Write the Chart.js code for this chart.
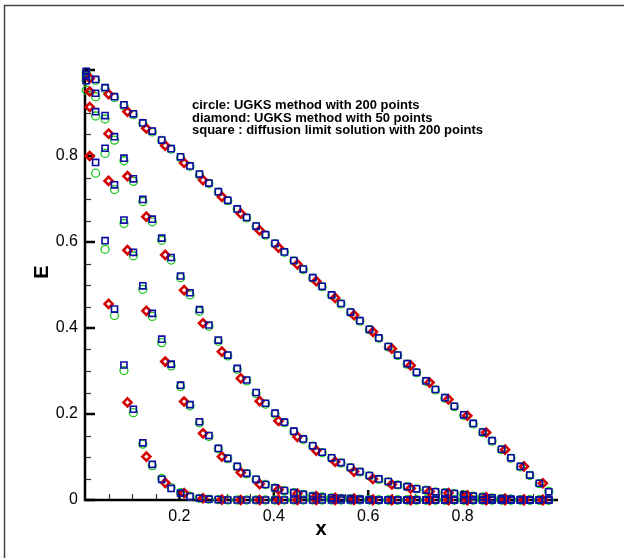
<!DOCTYPE html>
<html>
<head>
<meta charset="utf-8">
<script src="https://cdn.jsdelivr.net/npm/chart.js@4.4.0/dist/chart.umd.min.js"></script>
<style>
  html, body { margin: 0; padding: 0; background: #fff; }
  #wrap { position: relative; width: 624px; height: 558px; }
</style>
</head>
<body>
<div id="wrap"><canvas id="profile-chart"></canvas></div>
<script>
// sample positions: every 4th cell of the 200-cell mesh, every 2nd cell of the 50-cell mesh
const x200 = [0.0025,0.0225,0.0425,0.0625,0.0825,0.1025,0.1225,0.1425,0.1625,0.1825,
              0.2025,0.2225,0.2425,0.2625,0.2825,0.3025,0.3225,0.3425,0.3625,0.3825,
              0.4025,0.4225,0.4425,0.4625,0.4825,0.5025,0.5225,0.5425,0.5625,0.5825,
              0.6025,0.6225,0.6425,0.6625,0.6825,0.7025,0.7225,0.7425,0.7625,0.7825,
              0.8025,0.8225,0.8425,0.8625,0.8825,0.9025,0.9225,0.9425,0.9625,0.9825];
const x50 = [0.01,0.05,0.09,0.13,0.17,0.21,0.25,0.29,0.33,0.37,0.41,0.45,0.49,
             0.53,0.57,0.61,0.65,0.69,0.73,0.77,0.81,0.85,0.89,0.93,0.97];

// diffusion limit solution (squares), four output times
const sqA = [0.975,0.785,0.603,0.444,0.314,0.211,0.133,0.083,0.048,0.027,
             0.016,0.008,0.004,0.002,0.001,0,0,0,0,0,
             0,0,0,0,0,0,0,0,0,0, 0,0,0,0,0,0,0,0,0,0, 0,0,0,0,0,0,0,0,0,0];
const sqB = [0.985,0.903,0.818,0.733,0.651,0.576,0.498,0.434,0.374,0.316,
             0.267,0.222,0.182,0.150,0.120,0.097,0.078,0.062,0.048,0.036,
             0.028,0.022,0.017,0.013,0.009,0.007,0.005,0.004,0.003,0.002,
             0.001,0,0,0,0,0,0,0,0,0, 0,0,0,0,0,0,0,0,0,0];
const sqC = [0.990,0.946,0.894,0.845,0.795,0.747,0.699,0.653,0.609,0.564,
             0.521,0.482,0.443,0.407,0.372,0.337,0.306,0.279,0.250,0.225,
             0.202,0.181,0.160,0.142,0.126,0.111,0.098,0.087,0.076,0.066,
             0.057,0.049,0.043,0.035,0.031,0.026,0.023,0.019,0.017,0.015,
             0.012,0.009,0.007,0.005,0.003,0.002,0.001,0,0,0];
const sqD = [0.997,0.978,0.959,0.938,0.919,0.898,0.877,0.858,0.837,0.817,
             0.798,0.777,0.758,0.737,0.717,0.697,0.677,0.657,0.637,0.617,
             0.597,0.577,0.557,0.537,0.517,0.497,0.477,0.457,0.437,0.417,
             0.397,0.377,0.357,0.337,0.317,0.297,0.277,0.257,0.238,0.218,
             0.198,0.178,0.158,0.138,0.118,0.098,0.078,0.058,0.039,0.019];

// UGKS, 200 cells (circles)
const ciA = [0.953,0.760,0.583,0.429,0.301,0.203,0.130,0.080,0.050,0.029,
             0.017,0.009,0.004,0.002,0.001,0,0,0,0,0,
             0,0,0,0,0,0,0,0,0,0, 0,0,0,0,0,0,0,0,0,0, 0,0,0,0,0,0,0,0,0,0];
const ciB = [0.976,0.893,0.806,0.722,0.643,0.568,0.490,0.427,0.366,0.312,
             0.264,0.219,0.180,0.148,0.119,0.096,0.077,0.061,0.047,0.036,
             0.028,0.022,0.017,0.013,0.009,0.007,0.005,0.004,0.003,0.002,
             0.001,0,0,0,0,0,0,0,0,0, 0,0,0,0,0,0,0,0,0,0];
const ciC = [0.986,0.938,0.886,0.837,0.789,0.741,0.694,0.647,0.604,0.558,
             0.517,0.477,0.439,0.404,0.369,0.335,0.304,0.277,0.248,0.223,
             0.200,0.180,0.159,0.141,0.125,0.110,0.097,0.086,0.075,0.065,
             0.056,0.048,0.042,0.035,0.031,0.026,0.023,0.019,0.017,0.015,
             0.012,0.009,0.007,0.005,0.003,0.002,0.001,0,0,0];
const ciD = [0.995,0.976,0.957,0.936,0.917,0.896,0.876,0.856,0.836,0.816,
             0.796,0.776,0.756,0.736,0.716,0.696,0.676,0.656,0.636,0.616,
             0.596,0.576,0.556,0.536,0.516,0.496,0.476,0.456,0.436,0.416,
             0.396,0.376,0.356,0.336,0.316,0.296,0.276,0.256,0.237,0.217,
             0.197,0.177,0.157,0.137,0.117,0.097,0.077,0.057,0.038,0.020];

// UGKS, 50 cells (diamonds)
const dmA = [0.800,0.456,0.227,0.101,0.040,0.016,0.004,0.001,0,0,0,0,0,
             0,0,0,0,0,0,0,0,0,0,0,0];
const dmB = [0.914,0.742,0.581,0.440,0.322,0.229,0.155,0.101,0.064,0.037,0.024,0.015,0.009,
             0.005,0.003,0.001,0,0,0,0,0,0,0,0,0];
const dmC = [0.950,0.852,0.753,0.659,0.570,0.488,0.411,0.345,0.283,0.230,0.184,0.147,0.115,
             0.089,0.066,0.049,0.036,0.027,0.020,0.016,0.011,0.006,0.003,0.001,0];
const dmD = [0.981,0.944,0.903,0.864,0.824,0.784,0.744,0.705,0.666,0.627,0.587,0.548,0.509,
             0.470,0.430,0.391,0.352,0.313,0.273,0.234,0.196,0.157,0.117,0.078,0.039];

const xTicks = [0.2, 0.4, 0.6, 0.8];
const yTicks = [0, 0.2, 0.4, 0.6, 0.8];

const legendLines = [
  'circle: UGKS method with 200 points',
  'diamond: UGKS method with 50 points',
  'square : diffusion limit solution with 200 points'
];

function pts(xs, ys) {
  return xs.map((x, i) => ({ x: x, y: ys[i] }));
}

const squares = [sqA, sqB, sqC, sqD].flatMap(s => pts(x200, s));
const circles = [ciA, ciB, ciC, ciD].flatMap(s => pts(x200, s));
const diamonds = [dmA, dmB, dmC, dmD].flatMap(s => pts(x50, s));

// inward ticks, axis lines, axis titles, annotation text, frame
const decor = {
  id: 'decor',
  beforeDatasetsDraw(chart) {
    const { ctx, scales: { x, y } } = chart;
    const x0 = x.getPixelForValue(0), x1 = x.getPixelForValue(1);
    const y0 = y.getPixelForValue(0), y1 = y.getPixelForValue(1);
    ctx.save();
    // minor ticks every 0.05
    ctx.lineWidth = 1.2;
    ctx.strokeStyle = '#333';
    for (let k = 1; k < 20; k++) {
      if (k % 4 === 0) continue;
      const v = k * 0.05;
      const px = Math.round(x.getPixelForValue(v)) + 0.5;
      ctx.beginPath(); ctx.moveTo(px, y0); ctx.lineTo(px, y0 - 6); ctx.stroke();
      const py = Math.round(y.getPixelForValue(v)) + 0.5;
      ctx.beginPath(); ctx.moveTo(x0, py); ctx.lineTo(x0 + 6, py); ctx.stroke();
    }
    // major ticks
    ctx.strokeStyle = '#000';
    ctx.lineWidth = 2.5;
    xTicks.forEach(v => {
      const px = x.getPixelForValue(v);
      ctx.beginPath(); ctx.moveTo(px, y0); ctx.lineTo(px, y0 - 10); ctx.stroke();
    });
    yTicks.concat([1]).forEach(v => {
      const py = y.getPixelForValue(v);
      ctx.beginPath(); ctx.moveTo(x0, py); ctx.lineTo(x0 + 10, py); ctx.stroke();
    });
    // axis lines
    ctx.lineWidth = 2.5;
    ctx.beginPath();
    ctx.moveTo(x0, y1 - 1);
    ctx.lineTo(x0, y0);
    ctx.lineTo(x1 + 1, y0);
    ctx.stroke();
    ctx.restore();
  },
  afterDraw(chart) {
    const { ctx, scales: { x } } = chart;
    ctx.save();
    ctx.fillStyle = '#000';
    // axis titles
    ctx.font = 'bold 20px "Liberation Sans", Arial, sans-serif';
    ctx.textAlign = 'center';
    ctx.textBaseline = 'alphabetic';
    ctx.fillText('x', (x.left + x.right) / 2, 535);
    ctx.save();
    ctx.translate(48, 272);
    ctx.rotate(-Math.PI / 2);
    ctx.fillText('E', 0, 0);
    ctx.restore();
    // method key
    ctx.font = 'bold 13px "Liberation Sans", Arial, sans-serif';
    ctx.textAlign = 'left';
    legendLines.forEach((t, i) => ctx.fillText(t, 192, 109 + i * 12.5));
    // outer frame (top and left edges fall inside the page)
    ctx.strokeStyle = '#444';
    ctx.lineWidth = 1.5;
    ctx.beginPath();
    ctx.moveTo(4.5, 558);
    ctx.lineTo(4.5, 5.5);
    ctx.lineTo(624, 5.5);
    ctx.stroke();
    ctx.restore();
  }
};

new Chart(document.getElementById('profile-chart'), {
  type: 'scatter',
  data: {
    datasets: [
      {
        label: 'diffusion limit, 200 points',
        data: squares,
        order: 0,
        pointStyle: 'rect',
        pointRadius: 4.3,
        borderWidth: 1.6,
        borderColor: '#0c0ca0',
        backgroundColor: 'rgba(255,255,255,0)',
        clip: false
      },
      {
        label: 'UGKS, 50 points',
        data: diamonds,
        order: 1,
        pointStyle: 'rectRot',
        pointRadius: 4,
        borderWidth: 2.6,
        borderColor: '#d40000',
        backgroundColor: 'rgba(255,255,255,0)',
        clip: false
      },
      {
        label: 'UGKS, 200 points',
        data: circles,
        order: 2,
        pointStyle: 'circle',
        pointRadius: 4,
        borderWidth: 1.3,
        borderColor: '#1ec81e',
        backgroundColor: 'rgba(255,255,255,0)',
        clip: false
      }
    ]
  },
  options: {
    responsive: true,
    maintainAspectRatio: false,
    animation: false,
    layout: { padding: { left: 0, right: 67, top: 70, bottom: 8 } },
    plugins: { legend: { display: false }, tooltip: { enabled: false } },
    scales: {
      x: {
        type: 'linear',
        min: 0, max: 1,
        border: { display: false },
        grid: { display: false, drawTicks: false },
        afterFit: s => { s.height = 50; },
        ticks: {
          stepSize: 0.2,
          autoSkip: false,
          maxRotation: 0,
          padding: 7,
          color: '#000',
          font: { family: '"Liberation Sans", Arial, sans-serif', size: 16 },
          callback: v => (xTicks.some(t => Math.abs(t - v) < 1e-6) ? v.toFixed(1) : '')
        }
      },
      y: {
        type: 'linear',
        min: 0, max: 1,
        border: { display: false },
        grid: { display: false, drawTicks: false },
        afterFit: s => { s.width = 85; },
        ticks: {
          stepSize: 0.2,
          autoSkip: false,
          padding: 7,
          color: '#000',
          font: { family: '"Liberation Sans", Arial, sans-serif', size: 16 },
          callback: v => (v === 0 ? '0' : (yTicks.some(t => Math.abs(t - v) < 1e-6) ? v.toFixed(1) : ''))
        }
      }
    }
  },
  plugins: [decor]
});
</script>
</body>
</html>
